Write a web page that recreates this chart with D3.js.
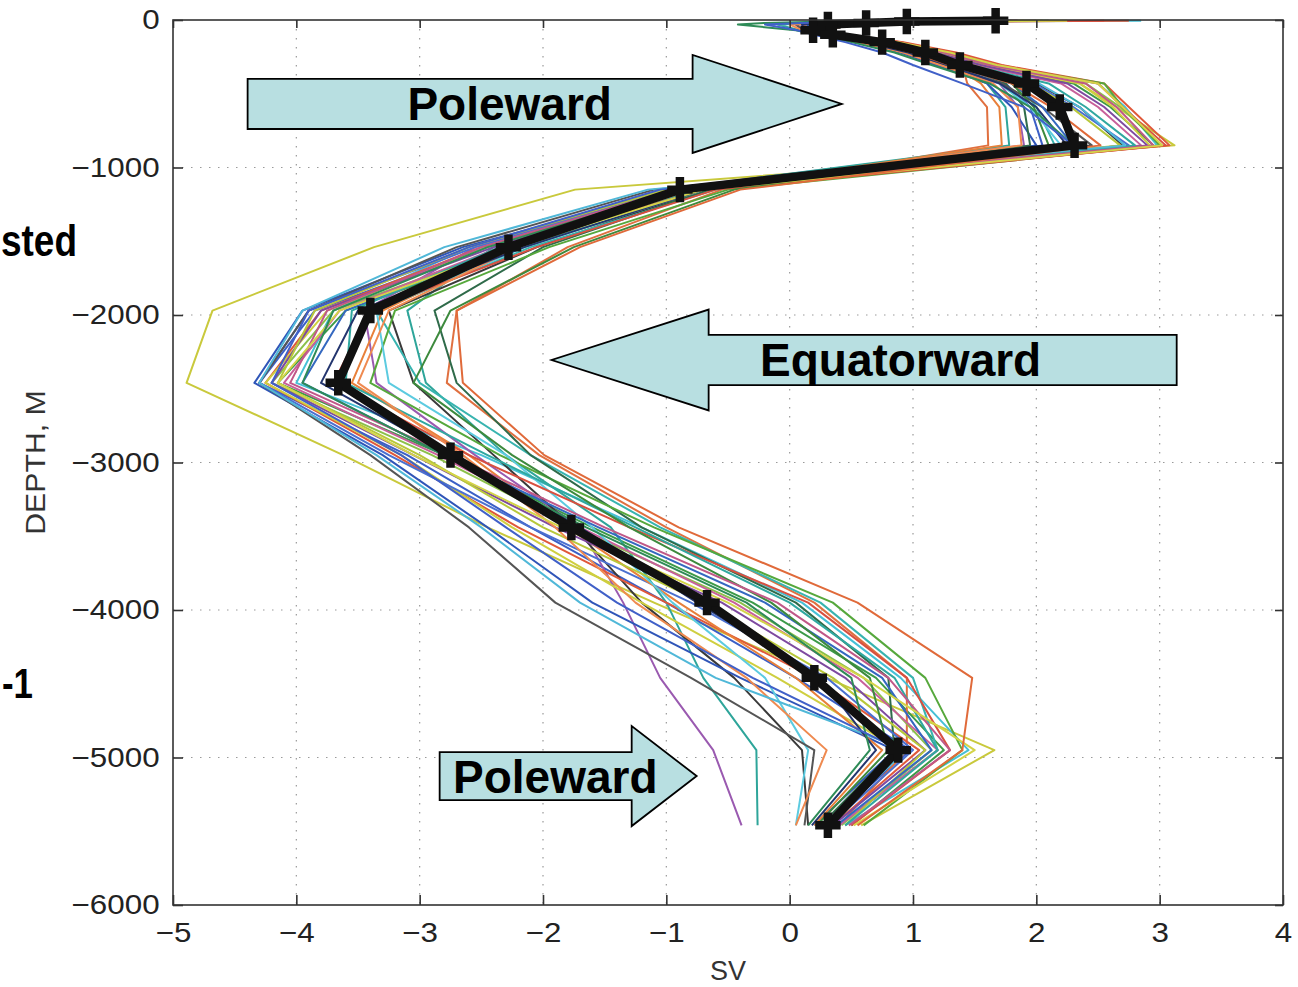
<!DOCTYPE html>
<html>
<head>
<meta charset="utf-8">
<script src="https://cdn.jsdelivr.net/npm/d3@7"></script>
<style>
  html, body { margin: 0; padding: 0; background: #fff; }
  svg { display: block; }
</style>
</head>
<body>
<svg id="chart" width="1298" height="987"></svg>
<script>
// Depth levels (m) shared by every profile
const depths = [-5, -10, -20, -30, -70, -100, -150, -220, -305, -430, -590, -850,
                -1150, -1540, -1970, -2460, -2950, -3440, -3950, -4460, -4950, -5460];

// Ensemble mean transport (Sv) at each depth level
const meanSv = [1.67, 0.95, 0.62, 0.31, 0.19, 0.35, 0.75, 1.10, 1.38, 1.92, 2.19, 2.31,
                -0.89, -2.28, -3.40, -3.66, -2.75, -1.77, -0.67, 0.20, 0.88, 0.31];

// Individual ensemble members (Sv)
const member01 = [2.05, 1.15, 0.75, 0.35, 0.22, 0.42, 0.85, 1.25, 1.62, 2.35, 2.65, 3.12, -1.74, -3.37, -4.68, -4.89, -3.62, -2.45, -1.10, 0.30, 1.66, 0.58];
const member02 = [1.55, 0.90, 0.55, 0.20, 0.15, 0.30, 0.62, 0.95, 1.25, 1.75, 1.95, 2.05, -0.80, -2.45, -3.85, -4.30, -3.10, -2.10, -1.00, 0.05, 0.98, 0.28];
const member03 = [1.80, 1.05, 0.70, 0.35, 0.20, 0.38, 0.80, 1.18, 1.52, 2.30, 2.60, 2.95, -0.62, -2.20, -3.60, -4.15, -2.80, -1.60, -0.30, 0.70, 1.25, 0.50];
const member04 = [1.25, 0.75, 0.40, 0.10, 0.12, 0.28, 0.62, 1.02, 1.40, 1.44, 1.60, 1.61, -0.55, -1.80, -2.70, -2.78, -2.03, -1.00, 0.20, 0.95, 0.95, 0.40];
const member05 = [2.85, 1.30, 0.80, 0.45, 0.25, 0.45, 0.88, 1.30, 1.68, 2.50, 2.72, 2.98, -0.95, -2.60, -3.70, -4.00, -2.50, -1.20, 0.10, 0.90, 1.45, 0.45];
const member06 = [1.40, 0.80, 0.45, 0.05, 0.10, 0.25, 0.58, 0.90, 1.20, 1.70, 1.85, 1.90, -1.05, -2.55, -3.45, -3.35, -2.55, -1.70, -1.35, -1.05, -0.62, -0.39];
const member07 = [1.10, 0.60, 0.30, -0.10, 0.08, 0.25, 0.55, 0.92, 1.22, 1.60, 1.75, 1.78, -1.00, -2.40, -3.10, -2.95, -2.30, -1.45, -1.00, -0.70, -0.27, -0.26];
const member08 = [1.65, 1.00, 0.60, 0.30, 0.18, 0.35, 0.75, 1.10, 1.42, 2.00, 2.35, 2.70, -0.70, -2.05, -3.25, -3.05, -2.40, -1.75, -1.20, -0.45, 0.10, 0.15];
const member09 = [2.75, 1.40, 0.90, 0.50, 0.28, 0.48, 0.92, 1.35, 1.72, 2.55, 2.75, 3.08, -0.85, -2.50, -3.80, -4.25, -3.20, -2.20, -1.00, 0.20, 1.05, 0.35];
const member10 = [1.95, 1.10, 0.72, 0.38, 0.21, 0.40, 0.82, 1.22, 1.58, 2.40, 2.68, 3.02, -0.75, -2.30, -3.70, -4.20, -2.90, -1.75, -0.40, 0.60, 1.15, 0.42];
const member11 = [1.35, 0.85, 0.50, 0.15, 0.14, 0.30, 0.60, 0.90, 1.18, 1.60, 1.80, 2.00, -0.90, -2.65, -3.95, -4.34, -3.30, -2.45, -1.60, -0.40, 0.85, 0.20];
const member12 = [1.60, 0.95, 0.58, 0.25, 0.17, 0.33, 0.70, 1.05, 1.38, 1.85, 2.00, 2.15, -0.60, -2.10, -3.35, -3.00, -2.10, -1.05, 0.25, 1.00, 1.20, 0.40];
const member13 = [1.75, 1.00, 0.65, 0.30, 0.19, 0.36, 0.78, 1.15, 1.50, 2.20, 2.50, 2.85, -0.80, -2.35, -3.65, -4.10, -2.85, -1.70, -0.45, 0.55, 1.20, 0.40];
const member14 = [1.45, 0.88, 0.52, 0.18, 0.15, 0.32, 0.66, 1.00, 1.32, 1.75, 1.90, 1.95, -0.65, -2.00, -2.88, -2.70, -2.10, -1.20, 0.05, 0.80, 0.85, 0.25];
const member15 = [1.90, 1.08, 0.70, 0.36, 0.20, 0.40, 0.84, 1.20, 1.55, 2.35, 2.62, 2.92, -0.85, -2.45, -3.75, -4.25, -3.15, -2.25, -1.20, -0.10, 0.90, 0.30];
const member16 = [1.70, 0.98, 0.60, 0.28, 0.18, 0.35, 0.74, 1.08, 1.40, 1.98, 2.30, 2.75, -0.95, -2.55, -3.90, -4.30, -3.25, -2.10, -0.80, 0.30, 1.00, 0.32];
const member17 = [1.30, 0.78, 0.45, 0.12, 0.12, 0.28, 0.60, 0.98, 1.32, 1.55, 1.70, 1.72, -0.75, -2.25, -3.30, -3.55, -2.60, -1.80, -0.90, 0.05, 0.75, 0.20];
const member18 = [2.10, 1.20, 0.78, 0.42, 0.23, 0.43, 0.88, 1.28, 1.65, 2.55, 2.70, 3.00, -0.50, -1.95, -3.20, -3.40, -2.35, -1.10, 0.35, 1.10, 1.40, 0.60];
const member19 = [1.50, 0.90, 0.55, 0.22, 0.16, 0.31, 0.66, 1.02, 1.33, 1.70, 1.95, 2.20, -0.70, -2.15, -3.35, -3.25, -2.30, -1.60, -0.95, -0.20, 0.15, 0.05];
const member20 = [1.85, 1.05, 0.68, 0.33, 0.20, 0.38, 0.80, 1.18, 1.55, 2.25, 2.55, 2.90, -0.90, -2.40, -3.80, -4.20, -3.05, -1.90, -0.55, 0.45, 1.10, 0.35];
const member21 = [1.20, 0.70, 0.38, 0.05, 0.11, 0.27, 0.58, 0.95, 1.25, 1.72, 2.05, 2.45, -1.10, -2.70, -3.90, -4.30, -3.40, -2.60, -1.90, -0.80, 0.20, 0.12];
const member22 = [2.55, 1.35, 0.85, 0.48, 0.26, 0.46, 0.90, 1.32, 1.70, 2.50, 2.70, 3.05, -0.60, -2.05, -3.40, -3.70, -2.60, -1.30, 0.15, 0.95, 1.30, 0.50];
const member23 = [1.60, 0.95, 0.58, 0.25, 0.17, 0.33, 0.72, 1.08, 1.40, 1.95, 2.28, 2.68, -1.00, -2.60, -3.85, -4.15, -3.00, -2.00, -0.70, 0.35, 1.10, 0.45];
const member24 = [1.40, 0.82, 0.48, 0.15, 0.14, 0.30, 0.64, 1.00, 1.30, 1.80, 2.05, 2.30, -0.85, -2.30, -3.60, -3.95, -2.80, -1.55, -0.20, 0.75, 1.15, 0.38];
const member25 = [1.75, 1.00, 0.62, 0.30, 0.19, 0.36, 0.76, 1.12, 1.46, 2.10, 2.40, 2.80, -0.75, -2.35, -3.55, -3.60, -2.45, -1.25, 0.00, 0.85, 1.20, 0.45];
const member26 = [1.55, 0.92, 0.55, 0.22, 0.16, 0.32, 0.68, 1.03, 1.36, 1.80, 1.98, 2.10, -0.45, -1.75, -2.75, -3.05, -2.25, -1.30, -0.15, 0.65, 0.80, 0.22];
const member27 = [2.00, 1.12, 0.72, 0.38, 0.22, 0.41, 0.85, 1.25, 1.62, 2.40, 2.65, 2.95, -0.95, -2.50, -3.75, -4.05, -2.75, -1.50, -0.10, 0.80, 1.30, 0.48];
const member28 = [1.15, 0.68, 0.35, 0.00, 0.10, 0.26, 0.56, 0.92, 1.22, 1.65, 1.85, 1.88, -0.80, -2.20, -3.25, -3.50, -2.65, -1.90, -1.25, -0.35, 0.30, 0.05];
const member29 = [1.65, 0.98, 0.60, 0.28, 0.18, 0.34, 0.73, 1.08, 1.42, 2.02, 2.35, 2.72, -1.15, -2.80, -3.95, -4.30, -3.35, -2.50, -1.70, -0.60, 0.95, 0.28];
const member30 = [1.30, 0.78, 0.45, 0.10, 0.12, 0.28, 0.60, 0.96, 1.28, 1.70, 2.00, 2.25, -0.70, -2.15, -3.50, -3.80, -2.75, -1.70, -0.75, 0.25, 0.70, 0.18];
const member31 = [2.25, 1.25, 0.80, 0.42, 0.24, 0.44, 0.88, 1.30, 1.68, 2.50, 2.70, 3.02, -0.70, -2.25, -3.65, -4.15, -3.05, -1.85, -0.50, 0.60, 1.50, 0.52];
const member32 = [0.60, 0.30, -0.20, -0.42, 0.05, 0.22, 0.50, 0.85, 1.15, 1.62, 1.95, 2.30, -0.90, -2.45, -3.70, -3.95, -2.80, -1.65, -0.35, 0.50, 0.65, 0.15];
const member33 = [0.90, 0.50, 0.10, -0.20, 0.06, 0.20, 0.45, 0.75, 1.00, 1.40, 1.90, 2.30, -1.05, -2.60, -3.90, -4.20, -3.15, -2.30, -1.40, -0.30, 0.90, 0.30];
const member34 = [1.50, 0.88, 0.52, 0.20, 0.15, 0.31, 0.65, 1.00, 1.30, 1.80, 2.12, 2.52, -0.40, -1.70, -2.70, -2.65, -1.99, -0.90, 0.55, 1.48, 1.40, 0.55];

const members = [member01, member02, member03, member04, member05, member06, member07, member08,
                 member09, member10, member11, member12, member13, member14, member15, member16,
                 member17, member18, member19, member20, member21, member22, member23, member24,
                 member25, member26, member27, member28, member29, member30, member31, member32,
                 member33, member34];

const memberColors = ["#c9c93c", "#3b5fc6", "#3c9a48", "#e07040", "#46c0d6", "#9a5ab0",
                      "#2ea59a", "#3a3a3a", "#e0583a", "#8cc04a", "#2f55b8", "#38b4b0",
                      "#c8609a", "#2f6b4a", "#cfcf40", "#4a70d0", "#e8803a", "#56a83c",
                      "#5ccbe0", "#7e4aa0", "#555555", "#d85040", "#b8c83a", "#3468c0",
                      "#30a8a0", "#3d8a3d", "#c05888", "#ef8a50", "#50b8d8", "#23356e",
                      "#d4d448", "#2e8b57", "#4060c8", "#e06a3a"];

// Axis ticks
const svTicks = [-5, -4, -3, -2, -1, 0, 1, 2, 3, 4];
const depthTicks = [0, -1000, -2000, -3000, -4000, -5000, -6000];

// Arrow annotations, in data units (Sv, m)
const arrows = [
  { label: "Poleward",    tail: -4.395, base: -0.787, tip: 0.422,  depth: -569,  body: 170, head: 332, textSv: -2.27 },
  { label: "Equatorward", tail: 3.138,  base: -0.657, tip: -1.930, depth: -2305, body: 170, head: 342, textSv: 0.90 },
  { label: "Poleward",    tail: -2.838, base: -1.281, tip: -0.754, depth: -5126, body: 163, head: 339, textSv: -1.90 }
];

const plot = { left: 173, right: 1283, top: 20, bottom: 905 };
const svg = d3.select("#chart");
const fontFamily = '"Liberation Sans", Arial, Helvetica, sans-serif';

const x = d3.scaleLinear().domain([-5, 4]).range([plot.left, plot.right]);
const y = d3.scaleLinear().domain([-6000, 0]).range([plot.bottom, plot.top]);

// Dotted grid
const grid = svg.append("g").attr("stroke", "#9a9a9a").attr("stroke-width", 1.2)
  .attr("stroke-dasharray", "1.5,7.5");
grid.selectAll(".gx").data(svTicks.slice(1, -1)).join("line")
  .attr("x1", d => x(d)).attr("x2", d => x(d))
  .attr("y1", plot.top).attr("y2", plot.bottom);
grid.selectAll(".gy").data(depthTicks.slice(1, -1)).join("line")
  .attr("x1", plot.left).attr("x2", plot.right)
  .attr("y1", d => y(d)).attr("y2", d => y(d));

// Ensemble members
const line = d3.line().x(d => x(d[0])).y(d => y(d[1]));
svg.append("g").attr("fill", "none").attr("stroke-width", 2).attr("stroke-linejoin", "round")
  .selectAll("path").data(members).join("path")
  .attr("stroke", (d, i) => memberColors[i % memberColors.length])
  .attr("d", vals => line(vals.map((v, i) => [v, depths[i]])));

// Ensemble mean
const meanPts = meanSv.map((v, i) => [v, depths[i]]);
svg.append("path").attr("fill", "none").attr("stroke", "#111").attr("stroke-width", 8.5)
  .attr("stroke-linejoin", "round").attr("d", line(meanPts));
svg.append("g").selectAll("path").data(meanPts).join("path")
  .attr("transform", d => `translate(${x(d[0])},${y(d[1])})`)
  .attr("d", d3.symbol(d3.symbolCross, 360))
  .attr("fill", "#111");

// Frame
svg.append("rect")
  .attr("x", plot.left).attr("y", plot.top)
  .attr("width", plot.right - plot.left).attr("height", plot.bottom - plot.top)
  .attr("fill", "none").attr("stroke", "#333").attr("stroke-width", 1.6);

// Axes with inward ticks
const tickFmt = d3.format("d");
const xAxis = svg.append("g").attr("transform", `translate(0,${plot.bottom})`)
  .call(d3.axisBottom(x).tickValues(svTicks).tickSizeInner(-10).tickSizeOuter(0).tickPadding(17).tickFormat(tickFmt));
const xTop = svg.append("g").attr("transform", `translate(0,${plot.top})`)
  .call(d3.axisTop(x).tickValues(svTicks).tickSizeInner(-8).tickSizeOuter(0).tickFormat(""));
const yAxis = svg.append("g").attr("transform", `translate(${plot.left},0)`)
  .call(d3.axisLeft(y).tickValues(depthTicks).tickSizeInner(-10).tickSizeOuter(0).tickPadding(12).tickFormat(tickFmt));
const yRight = svg.append("g").attr("transform", `translate(${plot.right},0)`)
  .call(d3.axisRight(y).tickValues(depthTicks).tickSizeInner(-8).tickSizeOuter(0).tickFormat(""));

[xAxis, xTop, yAxis, yRight].forEach(g => {
  g.select(".domain").remove();
  g.selectAll(".tick line").attr("stroke", "#333").attr("stroke-width", 1.6);
});
[xAxis, yAxis].forEach(g => {
  g.selectAll(".tick text").attr("font-size", 28).attr("font-family", fontFamily)
    .attr("fill", "#222").attr("transform", "scale(1.12,1)");
});

// Axis titles
svg.append("text").attr("x", (plot.left + plot.right) / 2).attr("y", 980)
  .attr("text-anchor", "middle").attr("font-family", fontFamily).attr("font-size", 27)
  .attr("fill", "#333").text("SV");
svg.append("text")
  .attr("transform", `translate(45,${(plot.top + plot.bottom) / 2}) rotate(-90) scale(1.12,1)`)
  .attr("text-anchor", "middle").attr("font-family", fontFamily).attr("font-size", 27)
  .attr("fill", "#333").text("DEPTH, M");

// Arrow annotations
const ag = svg.append("g");
arrows.forEach(a => {
  const cy = y(a.depth);
  const bh = y(a.depth - a.body) - cy;
  const hh = y(a.depth - a.head) - cy;
  const pts = [
    [x(a.tail), cy - bh], [x(a.base), cy - bh], [x(a.base), cy - hh], [x(a.tip), cy],
    [x(a.base), cy + hh], [x(a.base), cy + bh], [x(a.tail), cy + bh]
  ];
  ag.append("path").attr("d", "M" + pts.join("L") + "Z")
    .attr("fill", "#b8dfe1").attr("stroke", "#000").attr("stroke-width", 1.8)
    .attr("stroke-linejoin", "miter");
  ag.append("text").attr("x", x(a.textSv)).attr("y", cy + 16.5)
    .attr("text-anchor", "middle").attr("font-family", fontFamily)
    .attr("font-weight", "bold").attr("font-size", 46).attr("fill", "#000")
    .text(a.label);
});

// Slide text fragments at the left edge
svg.append("text").attr("x", 1).attr("y", 256)
  .attr("textLength", 76).attr("lengthAdjust", "spacingAndGlyphs")
  .attr("font-family", fontFamily).attr("font-weight", "bold").attr("font-size", 44)
  .attr("fill", "#000").text("sted");
svg.append("text").attr("x", 2).attr("y", 698)
  .attr("textLength", 31).attr("lengthAdjust", "spacingAndGlyphs")
  .attr("font-family", fontFamily).attr("font-weight", "bold").attr("font-size", 42)
  .attr("fill", "#000").text("-1");
</script>
</body>
</html>
